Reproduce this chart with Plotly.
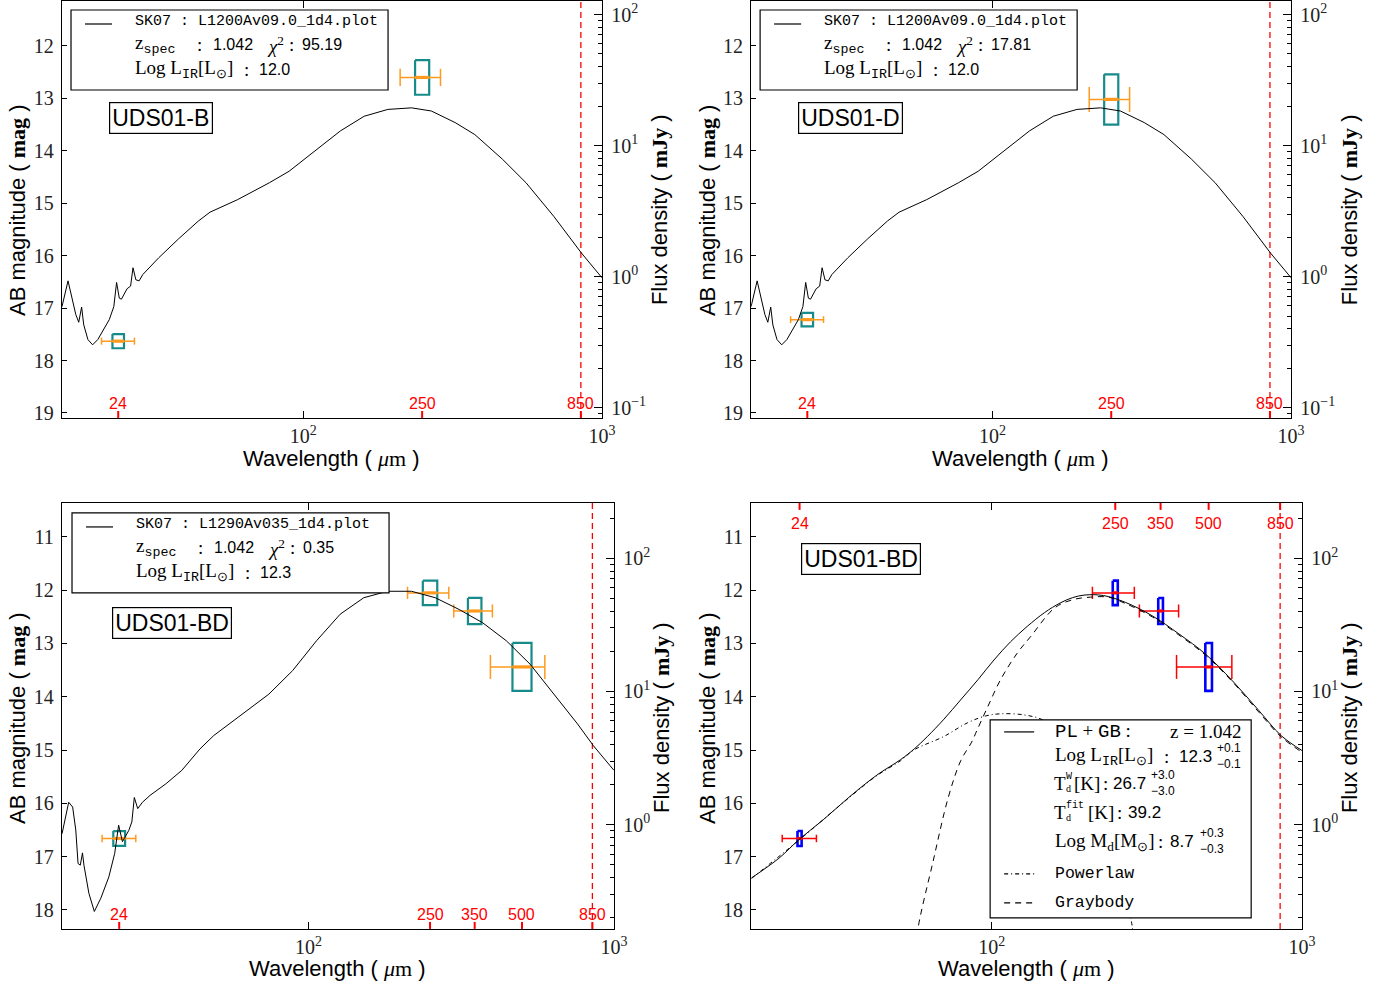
import numpy as np
import plotly.graph_objects as go

W, H = 1387, 988
ZP_MJY = 16.4  # AB magnitude of 1 mJy

# ---------------- data ----------------
# SK07 template L1200Av09.0_1d4 (UDS01-B and UDS01-D)
l1200_wave = [15.56, 16.3, 17.3, 17.7, 18.1, 18.4, 19.0, 19.7, 20.5, 21.4, 22.4, 23.2, 23.7,
              24.2, 24.6, 25.7, 26.4, 26.9, 27.5, 28.2, 29.0, 32.8, 38.2, 44.5, 48.7, 60.3,
              76.9, 89.6, 110.9, 133.1, 159.9, 191.9, 230.3, 268.3, 322.2, 375.3, 464.4,
              557.3, 689.9, 853.8, 1000]
l1200_mag = [16.97, 16.48, 17.12, 17.27, 16.98, 17.32, 17.60, 17.70, 17.60, 17.41, 17.22, 16.97,
             16.51, 16.81, 16.83, 16.63, 16.58, 16.23, 16.46, 16.48, 16.36, 16.04, 15.68, 15.34,
             15.17, 14.93, 14.61, 14.39, 13.97, 13.62, 13.34, 13.21, 13.18, 13.24, 13.46, 13.69,
             14.16, 14.61, 15.25, 15.95, 16.42]

# SK07 template L1290Av035_1d4 (UDS01-BD)
l1290_wave = [15.6, 16.4, 16.9, 17.3, 17.6, 17.9, 18.2, 18.4, 19.1, 19.9, 20.9, 22.2, 23.2, 23.9,
              24.6, 25.8, 26.4, 26.9, 27.6, 28.6, 30.3, 34.2, 38.5, 44.1, 48.9, 58.5, 74.2, 88.7,
              106.2, 127.0, 151.8, 181.6, 217.3, 259.9, 310.9, 371.5, 444.5, 531.8, 635.3, 760.0,
              857.0, 1000]
l1290_mag = [16.57, 15.98, 16.07, 16.50, 17.13, 17.16, 16.93, 17.16, 17.69, 18.03, 17.78, 17.38,
             16.94, 16.41, 16.72, 16.51, 16.35, 15.89, 16.10, 15.98, 15.85, 15.63, 15.38, 14.98,
             14.73, 14.39, 13.95, 13.51, 12.95, 12.45, 12.14, 12.02, 12.02, 12.14, 12.36, 12.61,
             12.95, 13.39, 13.95, 14.51, 14.92, 15.38]

# Power law + graybody fit (UDS01-BD)
plgb_wave = [16.8, 20.6, 23.9, 28.6, 34.9, 42.6, 50.8, 56.2, 61.9, 70.1, 79.3, 90.2, 101.6, 114.8,
             130.0, 147.9, 166.0, 182.0, 199.5, 229.1, 270.0, 328.9, 400.9, 488.7, 596.4, 726.1,
             857.0, 1000]
plgb_mag = [17.40, 17.03, 16.68, 16.31, 15.87, 15.47, 15.18, 14.98, 14.75, 14.42, 14.06, 13.68,
            13.31, 12.97, 12.68, 12.42, 12.24, 12.14, 12.09, 12.10, 12.23, 12.48, 12.82, 13.20,
            13.70, 14.26, 14.73, 15.01]
pl_wave = [16.8, 23.9, 34.9, 42.6, 50.8, 56.0, 69.8, 83.4, 95.5, 106.7, 126.8, 147.9, 177.8, 213.8,
           251.2, 288.4]
pl_mag = [17.41, 16.69, 15.88, 15.48, 15.20, 15.00, 14.75, 14.49, 14.36, 14.32, 14.34, 14.45,
          14.85, 15.60, 16.70, 18.60]
gb_wave = [56.9, 58.0, 64.6, 72.3, 79.4, 86.1, 89.7, 96.8, 106.7, 120.8, 133.4, 159.6, 181.9,
           208.0, 237.1, 269.8, 328.9, 400.9, 488.7, 597.0, 726.1, 859.0, 1000]
gb_mag = [18.70, 18.30, 17.10, 15.90, 15.20, 14.85, 14.62, 14.20, 13.68, 13.18, 12.87, 12.33,
          12.18, 12.13, 12.13, 12.25, 12.50, 12.84, 13.22, 13.72, 14.29, 14.76, 15.04]

# Photometry (AB mag) with filter extents
b_wave, b_mag, b_err = [24, 250], [17.63, 12.60], [0.135, 0.33]
b_lo, b_hi = [21.1, 211], [27.2, 288]
d_wave, d_mag, d_err = [24, 250], [17.22, 13.02], [0.13, 0.48]
d_lo, d_hi = [21.1, 211], [27.2, 288]
bd_wave, bd_mag, bd_err = [24, 250, 350, 500], [16.66, 12.05, 12.39, 13.44], [0.14, 0.23, 0.245, 0.45]
bd_lo, bd_hi = [21.1, 211, 299, 394], [27.2, 288, 400, 594]

bands_short = [24, 250, 850]
bands_long = [24, 250, 350, 500, 850]

# fit summaries shown in the legends
sk_fits = [("L1200Av09.0_1d4.plot", "1.042", "95.19", "12.0"),
           ("L1200Av09.0_1d4.plot", "1.042", "17.81", "12.0"),
           ("L1290Av035_1d4.plot", "1.042", "0.35", "12.3")]

# ---------------- styling / layout ----------------
SERIF = "Liberation Serif"
SANS = "Liberation Sans"
MONO = "Liberation Mono"
TEAL = "#178a8a"
ORANGE = "#ff9a1f"
SX, SY = 1.0096, 1.006   # layout pixel scale (reference px -> page px)


def fx(px):
    return px * SX / W


def fy(py):
    return 1 - py * SY / H


panels = [
    dict(x="x", y="y", y2="y2", px=(62, 602), py=(1, 418), xr=(1.192, 3.0005), yr=(19.095, 11.142),
         yt=list(range(12, 20)), bands=bands_short, band_pos="bottom"),
    dict(x="x2", y="y3", y2="y4", px=(751, 1291), py=(1, 418), xr=(1.192, 3.0005), yr=(19.095, 11.142),
         yt=list(range(12, 20)), bands=bands_short, band_pos="bottom"),
    dict(x="x3", y="y5", y2="y6", px=(62, 614), py=(503, 929), xr=(1.193, 3.0005), yr=(18.357, 10.362),
         yt=list(range(11, 19)), bands=bands_long, band_pos="bottom"),
    dict(x="x4", y="y7", y2="y8", px=(751, 1302), py=(503, 929), xr=(1.224, 3.0005), yr=(18.357, 10.362),
         yt=list(range(11, 19)), bands=bands_long, band_pos="top"),
]


def axname(ref):
    return ("xaxis" if ref[0] == "x" else "yaxis") + ref[1:]


fig = go.Figure()
annotations = []
shapes = []


def ann(text, px, py, size=19, family=SERIF, xanchor="left", yanchor="middle", angle=0, color="black", **kw):
    annotations.append(dict(text=text, x=fx(px), y=fy(py), xref="paper", yref="paper",
                            showarrow=False, xanchor=xanchor, yanchor=yanchor, textangle=angle,
                            font=dict(size=size, family=family, color=color), **kw))


def hline(x0, x1, y, dash="solid"):
    shapes.append(dict(type="line", xref="paper", yref="paper", x0=fx(x0), x1=fx(x1), y0=fy(y), y1=fy(y),
                       line=dict(color="black", width=1.2, dash=dash), layer="above"))


def box(x0, y0, x1, y1):
    shapes.append(dict(type="rect", xref="paper", yref="paper", x0=fx(x0), x1=fx(x1), y0=fy(y1), y1=fy(y0),
                       line=dict(color="black", width=1.2), fillcolor="white", layer="above"))


def line_trace(xs, ys, p, color="black", width=1.0, dash="solid", shape="linear"):
    fig.add_trace(go.Scatter(x=xs, y=ys, xaxis=p["x"], yaxis=p["y"], mode="lines",
                             line=dict(color=color, width=width, dash=dash, shape=shape),
                             hoverinfo="skip", showlegend=False, connectgaps=False))


def photometry(p, wave, mag, err, lo, hi, box_frac, box_col, bar_col, box_width):
    bx, by, cx, cy, ex, ey = [], [], [], [], [], []
    for w, m, e, l, h in zip(wave, mag, err, lo, hi):
        hw = box_frac * (np.log10(h) - np.log10(l)) / 2
        x0, x1 = w * 10 ** (-hw), w * 10 ** hw
        bx += [x0, x1, x1, x0, x0, None]
        by += [m - e, m - e, m + e, m + e, m - e, None]
        cx += [x0, x1, None]
        cy += [m, m, None]
        ex += [l, h, None, l, l, None, h, h, None]
        ey += [m, m, None, m - e / 2, m + e / 2, None, m - e / 2, m + e / 2, None]
    line_trace(bx, by, p, color=box_col, width=box_width)
    line_trace(ex, ey, p, color=bar_col, width=1.5)
    line_trace(cx, cy, p, color=bar_col, width=3.2)
    # same points on the flux axis (keeps the right axis alive)
    fig.add_trace(go.Scatter(x=wave, y=[10 ** ((ZP_MJY - m) / 2.5) for m in mag], xaxis=p["x"],
                             yaxis=p["y2"], mode="markers", marker=dict(opacity=0),
                             hoverinfo="skip", showlegend=False))


def band_marks(p):
    hpx = (p["py"][1] - p["py"][0]) * SY
    ppm = hpx / (p["yr"][0] - p["yr"][1])
    ybot, ytop = p["yr"]
    for b in p["bands"]:
        if p["band_pos"] == "bottom":
            line_trace([b, b], [ybot, ybot - 7 / ppm], p, color="red", width=2)
            ydom, yanc = 4 / hpx, "bottom"
        else:
            line_trace([b, b], [ytop, ytop + 7 / ppm], p, color="red", width=2)
            ydom, yanc = 1 - 10 / hpx, "top"
        annotations.append(dict(text=str(b), x=np.log10(b), y=ydom, xref=p["x"], yref=p["y"] + " domain",
                                showarrow=False, xanchor="center", yanchor=yanc,
                                font=dict(size=16, family=SANS, color="red")))
    line_trace([850, 850], [ybot, ytop], p, color="red", width=1.3, dash="6px,4px")


# ---- panel contents ----
P1, P2, P3, P4 = panels
for p in (P1, P2, P3, P4):
    band_marks(p)

photometry(P1, b_wave, b_mag, b_err, b_lo, b_hi, 0.35, TEAL, ORANGE, 2.2)
line_trace(l1200_wave, l1200_mag, P1)
photometry(P2, d_wave, d_mag, d_err, d_lo, d_hi, 0.35, TEAL, ORANGE, 2.2)
line_trace(l1200_wave, l1200_mag, P2)
photometry(P3, bd_wave, bd_mag, bd_err, bd_lo, bd_hi, 0.35, TEAL, ORANGE, 2.2)
line_trace(l1290_wave, l1290_mag, P3)

photometry(P4, bd_wave, bd_mag, bd_err, bd_lo, bd_hi, 0.12, "blue", "red", 2.6)
line_trace(pl_wave, pl_mag, P4, dash="4px,3px,1px,3px", shape="spline")
line_trace(gb_wave, gb_mag, P4, dash="6px,5px", shape="spline")
line_trace(plgb_wave, plgb_mag, P4, shape="spline")

# ---- axes ----
layout_axes = {}
minor_flux = [k * 10.0 ** e for e in range(-2, 3) for k in range(2, 10)]
for p in panels:
    x0, x1 = p["px"]
    q0, q1 = p["py"]
    layout_axes[axname(p["x"])] = dict(
        type="log", range=list(p["xr"]), domain=[fx(x0), fx(x1)], anchor=p["y"],
        tickvals=[100, 1000], ticktext=["10<sup>2</sup>", "10<sup>3</sup>"],
        ticks="inside", ticklen=7, tickcolor="black", showline=True, linecolor="black", linewidth=1.3,
        mirror="ticks", showgrid=False, zeroline=False,
        tickfont=dict(family=SERIF, size=20, color="#222"))
    layout_axes[axname(p["y"])] = dict(
        range=list(p["yr"]), domain=[fy(q1), fy(q0)], anchor=p["x"],
        tickvals=p["yt"], ticks="inside", ticklen=5, tickcolor="black",
        showline=True, linecolor="black", linewidth=1.3, showgrid=False, zeroline=False,
        tickfont=dict(family=SERIF, size=20, color="#222"), ticklabelstandoff=3)
    fr = [(ZP_MJY - p["yr"][0]) / 2.5, (ZP_MJY - p["yr"][1]) / 2.5]
    fvals = [v for v in [0.1, 1, 10, 100] if fr[0] <= np.log10(v) <= fr[1]]
    ftext = {0.1: "10<sup>−1</sup>", 1: "10<sup>0</sup>", 10: "10<sup>1</sup>", 100: "10<sup>2</sup>"}
    layout_axes[axname(p["y2"])] = dict(
        type="log", range=fr, overlaying=p["y"], side="right", anchor=p["x"],
        tickvals=fvals, ticktext=[ftext[v] for v in fvals], ticks="inside", ticklen=8, tickcolor="black",
        minor=dict(tickvals=minor_flux, ticks="inside", ticklen=4, tickcolor="black"),
        showline=True, linecolor="black", linewidth=1.3, showgrid=False, zeroline=False,
        tickfont=dict(family=SERIF, size=20, color="#222"), ticklabelstandoff=4)


# ---- axis titles ----
def sp(fam, txt):
    return f'<span style="font-family:{fam}">{txt}</span>'


ab_title = "AB magnitude ( " + sp(SERIF, "<b>mag</b>") + " )"
fx_title = "Flux density ( " + sp(SERIF, "<b>mJy</b>") + " )"
wl_title = "Wavelength ( " + sp(SERIF, "<i>μ</i>m") + " )"
for lx, rx, cx, cy, by in [(18, 660, 331, 210, 459), (708, 1350, 1020, 210, 459),
                           (18, 662, 337, 718, 969), (708, 1350, 1026, 718, 969)]:
    ann(ab_title, lx, cy, size=22, family=SANS, xanchor="center", angle=-90)
    ann(fx_title, rx, cy, size=22, family=SANS, xanchor="center", angle=-90)
    ann(wl_title, cx, by, size=22, family=SANS, xanchor="center")

# ---- object name boxes ----
for name, cx, cy in [("UDS01-B", 161, 118), ("UDS01-D", 850, 118), ("UDS01-BD", 172, 623), ("UDS01-BD", 861, 559)]:
    ann(name, cx, cy, size=23, family=SANS, xanchor="center", bordercolor="black", borderwidth=1.2,
        borderpad=2, bgcolor="white")

# ---- SK07 legends ----
NB = "\u00a0"
for (bx0, by0, bx1, by1), (tmpl, zs, chi2, lir) in zip([(71, 10, 388, 90), (760, 10, 1077, 90),
                                                        (72, 513, 389, 593)], sk_fits):
    box(bx0, by0, bx1, by1)
    hline(bx0 + 14, bx0 + 41, by0 + 14)
    dx = bx0 - 71
    ann(sp(MONO, f"SK07 :{NB}{tmpl}"), 133 + dx, by0 + 12, size=15)
    ann("z<sub>" + sp(MONO, "spec") + "</sub>", 133 + dx, by0 + 35)
    ann(":", 195 + dx, by0 + 35)
    ann(zs, 211 + dx, by0 + 35, size=16, family=SANS)
    ann("<i>χ</i><sup>2</sup>", 265 + dx, by0 + 35)
    ann(":", 287 + dx, by0 + 35)
    ann(chi2, 300 + dx, by0 + 35, size=16, family=SANS)
    ann("Log L<sub>" + sp(MONO, "IR") + "</sub>[L<sub>⊙</sub>]", 133 + dx, by0 + 60)
    ann(":", 242 + dx, by0 + 60)
    ann(lir, 257 + dx, by0 + 60, size=16, family=SANS)

# ---- PL+GB legend ----
box(990, 720, 1251, 918)
for yy, dash in [(732, "solid"), (874, "4px,3px,1px,3px"), (903, "6px,5px")]:
    hline(1004, 1034, yy, dash)
tx = 1053
ann(sp(MONO, "PL") + NB + "+" + NB + sp(MONO, "GB") + NB + ":", tx, 732)
ann("z = 1.042", 1243, 732, xanchor="right")
ann("Log L<sub>" + sp(MONO, "IR") + "</sub>[L<sub>⊙</sub>]", tx, 757)
ann(":", 1162, 757)
ann("12.3", 1214, 757, size=17, family=SANS, xanchor="right")
ann("+0.1<br>−0.1", 1215, 756, size=12, family=SANS, align="left")
ann("T", tx - 1, 784)
ann(sp(MONO, "W") + "<br>d", 1064, 783, size=10, align="left")
ann("[K]", 1072, 784)
ann(":", 1101, 784)
ann("26.7", 1148, 784, size=17, family=SANS, xanchor="right")
ann("+3.0<br>−3.0", 1149, 783, size=12, family=SANS, align="left")
ann("T", tx - 1, 813)
ann(sp(MONO, "fit") + "<br>d", 1064, 812, size=10, align="left")
ann("[K]", 1086, 813)
ann(":", 1115, 813)
ann("39.2", 1163, 813, size=17, family=SANS, xanchor="right")
ann("Log M<sub>d</sub>[M<sub>⊙</sub>]", tx, 842)
ann(":", 1156, 842)
ann("8.7", 1196, 842, size=17, family=SANS, xanchor="right")
ann("+0.3<br>−0.3", 1198, 841, size=12, family=SANS, align="left")
ann(sp(MONO, "Powerlaw"), tx, 874, size=16.5)
ann(sp(MONO, "Graybody"), tx, 903, size=16.5)

fig.update_layout(width=W, height=H, margin=dict(l=0, r=0, t=0, b=0), paper_bgcolor="white",
                  plot_bgcolor="white", showlegend=False, annotations=annotations, shapes=shapes,
                  **layout_axes)

page_fix = ("for (const el of [document.documentElement, document.body]) {"
            "el.style.margin='0px'; el.style.padding='0px'; el.style.overflow='hidden'; }")
fig.write_html("out.html", config={"displayModeBar": False}, post_script=page_fix)
